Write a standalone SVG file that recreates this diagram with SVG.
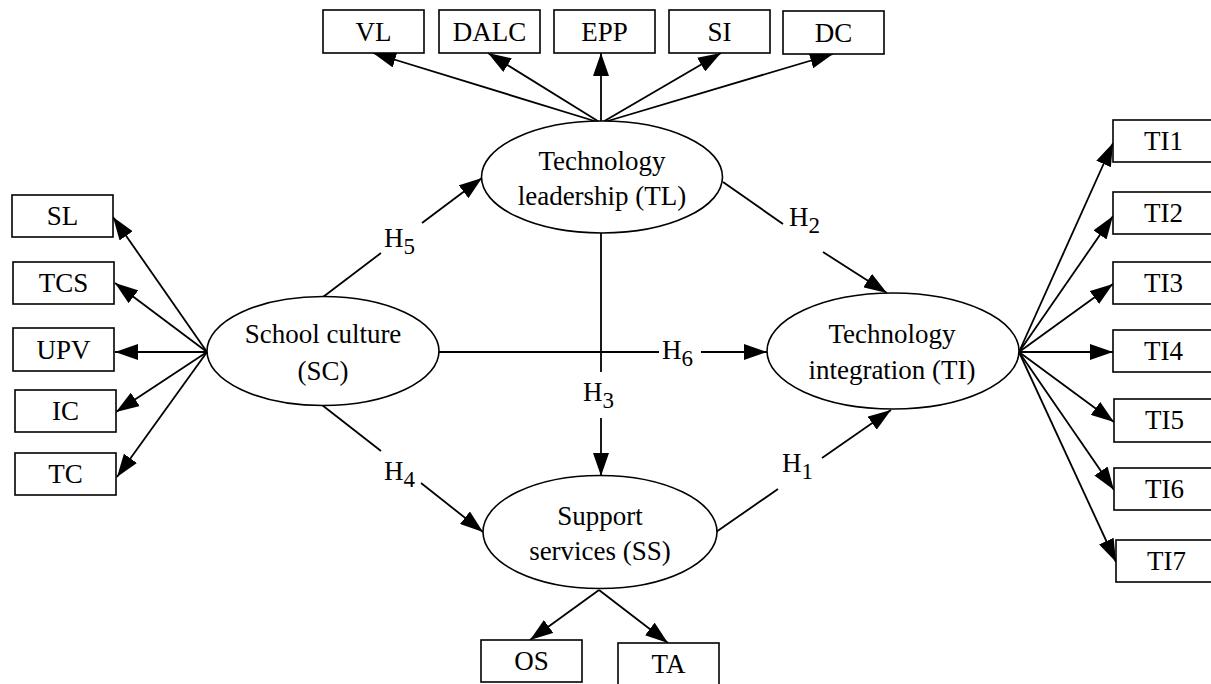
<svg xmlns="http://www.w3.org/2000/svg" width="1211" height="684" viewBox="0 0 1211 684">
<style>
.box{fill:#fff;stroke:#000;stroke-width:1.6}
.ell{fill:#fff;stroke:#000;stroke-width:1.6}
.t{font-family:'Liberation Serif','DejaVu Serif',serif;font-size:27px;fill:#000;text-anchor:middle}
.h{font-family:'Liberation Serif','DejaVu Serif',serif;font-size:27px;fill:#000}
.c{fill:none;stroke:#000;stroke-width:1.8}
</style>
<defs>
<marker id="ah" viewBox="0 0 23 16" refX="23" refY="8" markerWidth="23" markerHeight="16" markerUnits="userSpaceOnUse" orient="auto">
<path d="M0,0 L23,8 L0,16 z" fill="#000"/>
</marker>
</defs>
<rect width="1211" height="684" fill="#fff"/>
<g id="connectors">
<path class="c" marker-end="url(#ah)" d="M601,123 L373,53"/>
<path class="c" marker-end="url(#ah)" d="M601,123 L488,53"/>
<path class="c" marker-end="url(#ah)" d="M601,123 L601,53"/>
<path class="c" marker-end="url(#ah)" d="M601,123 L721,53"/>
<path class="c" marker-end="url(#ah)" d="M601,123 L833,54"/>
<path class="c" marker-end="url(#ah)" d="M207,352 L113,217"/>
<path class="c" marker-end="url(#ah)" d="M207,352 L115,283"/>
<path class="c" marker-end="url(#ah)" d="M207,352 L115,352"/>
<path class="c" marker-end="url(#ah)" d="M207,352 L116,412"/>
<path class="c" marker-end="url(#ah)" d="M207,352 L117,477"/>
<path class="c" marker-end="url(#ah)" d="M1019,352 L1113,143"/>
<path class="c" marker-end="url(#ah)" d="M1019,352 L1113,216"/>
<path class="c" marker-end="url(#ah)" d="M1019,352 L1113,284"/>
<path class="c" marker-end="url(#ah)" d="M1019,352 L1113,352"/>
<path class="c" marker-end="url(#ah)" d="M1019,352 L1114,422"/>
<path class="c" marker-end="url(#ah)" d="M1019,352 L1114,490"/>
<path class="c" marker-end="url(#ah)" d="M1019,352 L1116,562"/>
<path class="c" marker-end="url(#ah)" d="M599,590 L530,640"/>
<path class="c" marker-end="url(#ah)" d="M599,590 L668,643"/>
<path class="c" d="M323,297 L381,253"/>
<path class="c" marker-end="url(#ah)" d="M422,223 L482,178"/>
<path class="c" d="M723,182 L783,224"/>
<path class="c" marker-end="url(#ah)" d="M823,252 L887,293"/>
<path class="c" d="M439,352 L659,352"/>
<path class="c" marker-end="url(#ah)" d="M701,352 L767,352"/>
<path class="c" d="M601,232 L601,372"/>
<path class="c" marker-end="url(#ah)" d="M601,418 L601,476"/>
<path class="c" d="M322,405 L381,451"/>
<path class="c" marker-end="url(#ah)" d="M421,483 L483,532"/>
<path class="c" d="M716,532 L778,489"/>
<path class="c" marker-end="url(#ah)" d="M822,458 L891,410"/>
</g>
<g id="label-H5"><text class="h" x="384" y="247">H<tspan font-size="23" dy="7">5</tspan></text></g>
<g id="label-H2"><text class="h" x="789" y="226">H<tspan font-size="23" dy="7">2</tspan></text></g>
<g id="label-H6"><text class="h" x="662" y="359">H<tspan font-size="23" dy="7">6</tspan></text></g>
<g id="label-H3"><text class="h" x="583" y="401">H<tspan font-size="23" dy="7">3</tspan></text></g>
<g id="label-H4"><text class="h" x="384" y="480">H<tspan font-size="23" dy="7">4</tspan></text></g>
<g id="label-H1"><text class="h" x="782" y="472">H<tspan font-size="23" dy="7">1</tspan></text></g>
<g id="TL"><ellipse class="ell" cx="602" cy="177" rx="120.5" ry="56"/><text class="t" x="602" y="170">Technology</text><text class="t" x="602" y="205">leadership (TL)</text></g>
<g id="SC"><ellipse class="ell" cx="323" cy="351" rx="116" ry="54.5"/><text class="t" x="323" y="343">School culture</text><text class="t" x="323" y="380">(SC)</text></g>
<g id="TI"><ellipse class="ell" cx="893" cy="351" rx="126" ry="58"/><text class="t" x="892" y="343">Technology</text><text class="t" x="892" y="379">integration (TI)</text></g>
<g id="SS"><ellipse class="ell" cx="600" cy="532" rx="117" ry="56.5"/><text class="t" x="600" y="525">Support</text><text class="t" x="600" y="560">services (SS)</text></g>
<g id="VL"><rect class="box" x="323" y="10" width="101" height="43"/><text class="t" x="373.5" y="41">VL</text></g>
<g id="DALC"><rect class="box" x="439" y="10" width="101" height="43"/><text class="t" x="489.5" y="41">DALC</text></g>
<g id="EPP"><rect class="box" x="554" y="10" width="101" height="43"/><text class="t" x="604.5" y="41">EPP</text></g>
<g id="SI"><rect class="box" x="669" y="10" width="101" height="43"/><text class="t" x="719.5" y="41">SI</text></g>
<g id="DC"><rect class="box" x="783" y="11" width="101" height="43"/><text class="t" x="833.5" y="42">DC</text></g>
<g id="SL"><rect class="box" x="12" y="195" width="101" height="42"/><text class="t" x="62.5" y="225">SL</text></g>
<g id="TCS"><rect class="box" x="13" y="262" width="101" height="42"/><text class="t" x="63.5" y="292">TCS</text></g>
<g id="UPV"><rect class="box" x="13" y="328" width="101" height="43"/><text class="t" x="63.5" y="359">UPV</text></g>
<g id="IC"><rect class="box" x="15" y="390" width="101" height="42"/><text class="t" x="65.5" y="420">IC</text></g>
<g id="TC"><rect class="box" x="15" y="453" width="101" height="42"/><text class="t" x="65.5" y="483">TC</text></g>
<g id="TI1"><rect class="box" x="1113" y="120" width="101" height="42"/><text class="t" x="1163.5" y="150">TI1</text></g>
<g id="TI2"><rect class="box" x="1113" y="192" width="101" height="42"/><text class="t" x="1163.5" y="222">TI2</text></g>
<g id="TI3"><rect class="box" x="1113" y="262" width="101" height="42"/><text class="t" x="1163.5" y="292">TI3</text></g>
<g id="TI4"><rect class="box" x="1113" y="330" width="101" height="42"/><text class="t" x="1163.5" y="360">TI4</text></g>
<g id="TI5"><rect class="box" x="1114" y="399" width="101" height="43"/><text class="t" x="1164.5" y="429">TI5</text></g>
<g id="TI6"><rect class="box" x="1114" y="468" width="101" height="42"/><text class="t" x="1164.5" y="498">TI6</text></g>
<g id="TI7"><rect class="box" x="1116" y="540" width="101" height="42"/><text class="t" x="1166.5" y="570">TI7</text></g>
<g id="OS"><rect class="box" x="481" y="640" width="101" height="42"/><text class="t" x="531.5" y="670">OS</text></g>
<g id="TA"><rect class="box" x="618" y="643" width="101" height="43"/><text class="t" x="668.5" y="673">TA</text></g>
</svg>
